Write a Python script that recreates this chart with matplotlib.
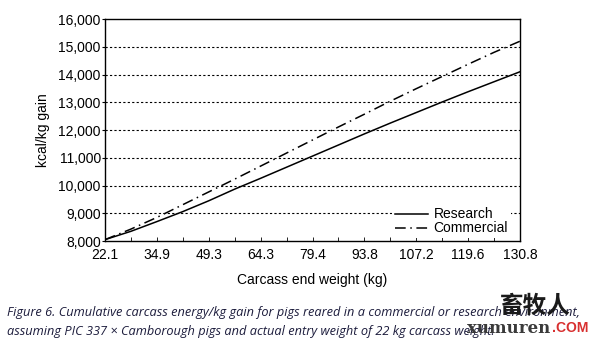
import matplotlib.pyplot as plt
import numpy as np

# x categories (carcass end weight, kg) - labels shown every other point
weights = [22.1, 28.5, 34.9, 42.1, 49.3, 56.8, 64.3, 71.9, 79.4,
           86.6, 93.8, 100.5, 107.2, 113.4, 119.6, 125.2, 130.8]
tick_labels = ['22.1', '34.9', '49.3', '64.3', '79.4', '93.8', '107.2', '119.6', '130.8']

# cumulative carcass energy, kcal/kg gain
research = [8050, 8350, 8700, 9060, 9450, 9870, 10260, 10660, 11060,
            11460, 11860, 12250, 12630, 13010, 13380, 13740, 14100]
commercial = [8050, 8430, 8850, 9310, 9770, 10230, 10700, 11170, 11640,
              12110, 12570, 13040, 13490, 13930, 14370, 14800, 15200]

plt.rcParams['font.family'] = ['Liberation Sans', 'DejaVu Sans']

fig = plt.figure(figsize=(5.95, 3.42), dpi=100)
ax = fig.add_axes([0.1765, 0.2953, 0.6975, 0.6491])

x = np.arange(len(weights))
ax.plot(x, research, color='black', lw=1.1, label='Research')
ax.plot(x, commercial, color='black', lw=1.1, dashes=(7, 3, 1, 3), label='Commercial')

ax.set_xlim(0, len(weights) - 1)
ax.set_ylim(8000, 16000)
ax.set_yticks(np.arange(8000, 16001, 1000))
ax.set_yticklabels([f'{v:,}' for v in range(8000, 16001, 1000)], fontsize=10)
ax.set_xticks(x[::2])
ax.set_xticklabels(tick_labels, fontsize=10)
ax.set_xticks(x, minor=True)
ax.tick_params(axis='x', which='both', direction='in', length=3, width=0.6, pad=5)
ax.tick_params(axis='y', direction='out', length=2, width=0.8, pad=1)

for v in range(9000, 16000, 1000):
    ax.axhline(v, color='black', lw=0.8, ls=(0, (2, 2)), zorder=0)

for s in ax.spines.values():
    s.set_linewidth(1.0)

ax.set_ylabel('kcal/kg gain', fontsize=10, labelpad=6)
ax.set_xlabel('Carcass end weight (kg)', fontsize=10, labelpad=8)

leg = ax.legend(loc='lower right', frameon=True, fontsize=10, handlelength=2.4,
                borderaxespad=0.2, labelspacing=0.0, handletextpad=0.4,
                borderpad=0.2, bbox_to_anchor=(0.985, 0.0))
leg.get_frame().set_edgecolor('none')
leg.get_frame().set_facecolor('white')
leg.get_frame().set_alpha(1)

cap_color = '#1c1c3c'
fig.text(0.012, 0.085, 'Figure 6. Cumulative carcass energy/kg gain for pigs reared in a commercial or research environment,',
         fontsize=9.2, style='italic', family='Open Sans', color=cap_color, va='center')
fig.text(0.012, 0.032, 'assuming PIC 337 \u00d7 Camborough pigs and actual entry weight of 22 kg carcass weight.',
         fontsize=9.2, style='italic', family='Open Sans', color=cap_color, va='center')

# watermark
fig.text(0.9, 0.105, '畜牧人', fontsize=17, fontweight='bold', family='Noto Sans CJK SC',
         color='#1a1a1a', ha='center', va='center')
fig.text(0.855, 0.04, 'xumuren', fontsize=12, fontweight='bold', family='DejaVu Serif',
         color='#3a3a3a', ha='center', va='center')
fig.text(0.958, 0.04, '.COM', fontsize=10, fontweight='bold', family='Liberation Sans',
         color='#d83030', ha='center', va='center')

fig.savefig('out.png', dpi=100)
